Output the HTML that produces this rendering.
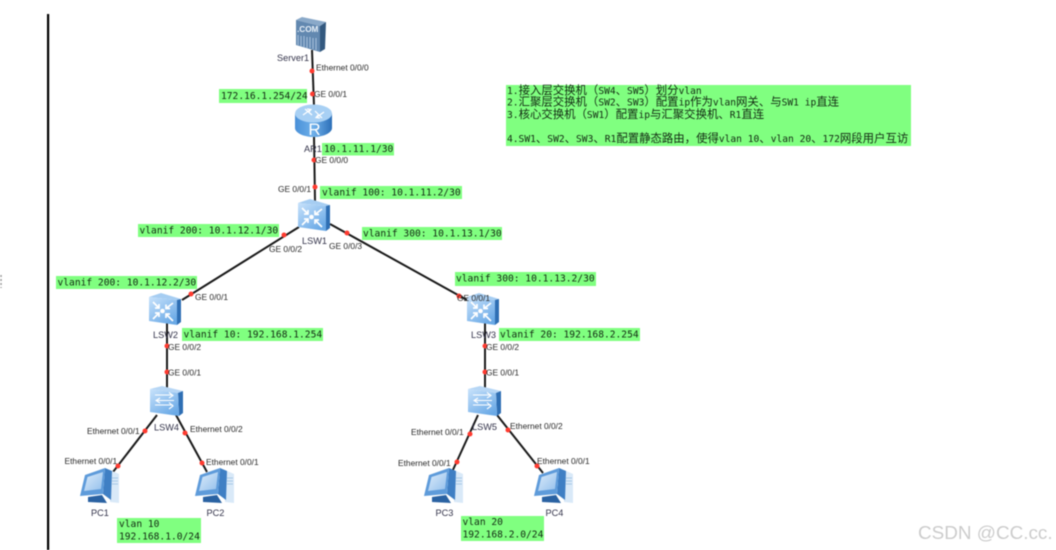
<!DOCTYPE html>
<html lang="zh">
<head>
<meta charset="utf-8">
<title>Network topology</title>
<style>
html,body{margin:0;padding:0;background:#fff;width:1056px;height:550px;overflow:hidden}
svg{display:block;filter:blur(.45px)}
.l{font-family:"Liberation Sans",sans-serif;font-size:8.4px;fill:#2a2a2a}
.n{font-family:"Liberation Sans",sans-serif;font-size:9.2px;fill:#33334a}
.m{font-family:"DejaVu Sans Mono","Liberation Mono",monospace;font-size:9.6px;fill:#122a12}
.c{font-family:"Noto Sans CJK SC","WenQuanYi Zen Hei",sans-serif;font-size:11.4px}
.g{fill:#80ff80}
.w{font-family:"Liberation Sans",sans-serif;font-size:18.9px;fill:#cccccc}
</style>
</head>
<body>
<svg width="1056" height="550" viewBox="0 0 1056 550" xmlns="http://www.w3.org/2000/svg">
<defs>
<linearGradient id="f" x1="0" y1="0" x2="0.7" y2="1"><stop offset="0" stop-color="#c8e2fb"/><stop offset="1" stop-color="#6aa9e6"/></linearGradient>
<linearGradient id="r" x1="0" y1="0" x2="1" y2="0"><stop offset="0" stop-color="#4a90d8"/><stop offset=".5" stop-color="#6fb0ea"/><stop offset="1" stop-color="#2c6fb8"/></linearGradient>
<linearGradient id="p" x1="0" y1="0" x2="1" y2="1"><stop offset="0" stop-color="#dcebfa"/><stop offset="1" stop-color="#94c0ec"/></linearGradient>
<g id="core">
<polygon points="0,4 12,0 32,6 28,7" fill="#a6cdf2"/>
<polygon points="28,7 32,6 32,29 28,32" fill="#2f6fb4"/>
<polygon points="0,4 28,7 28,32 0,28" fill="url(#f)"/>
<g stroke="#fff" stroke-width="1.700" fill="none">
<path d="M4,9 L10,15 M10,11 V15 H6"/><path d="M24,10 L17,15.500 M17,11.500 V15.500 H21"/>
<path d="M4,26 L10,20 M6,20 H10 V24"/><path d="M24,28 L17,21 M17,25 V21 H21"/>
</g>
<circle cx="13.500" cy="18" r="2.300" fill="#fff"/>
</g>
<g id="access">
<polygon points="0,3 12,0 33,5 28,7" fill="#b6d6f5"/>
<polygon points="28,7 33,5 33,27 29,30" fill="#2f6fb4"/>
<polygon points="0,3 28,7 29,30 0,26" fill="url(#f)"/>
<g stroke="#fff" stroke-width="1.100" fill="none">
<path d="M5,9 H23 M19,6.500 L23,9.500 L19,12"/>
<path d="M24,14.500 H6 M10,12 L6,14.500 L10,17"/>
<path d="M5,19 H23 M19,16.500 L23,20 L19,23"/>
</g>
</g>
<g id="pc">
<polygon points="30,1 39,5 39,34 30,33" fill="#d9e9f8"/>
<path d="M32,9 H38 M32,12 H38 M32,15 H38" stroke="#a8c8e6" stroke-width="1"/>
<polygon points="25,-1 32,2 31,31 23,25" fill="#3f7fc4"/>
<polygon points="8,28 22,26 27,34 8,33" fill="#2a62a2"/>
<polygon points="5,6 25,-1 23,25 0,27" fill="#5e9bda"/>
<polygon points="7.500,8 23,3 21,20 4,22" fill="url(#p)"/>
</g>
</defs>

<rect width="1056" height="550" fill="#fff"/>
<rect x="47" y="14" width="2.200" height="536" fill="#000"/>
<path d="M1,275v2M1,279v2M1,283v2M1,287v1" stroke="#999" stroke-width="1.500"/>

<g stroke="#1a1a1a" stroke-width="2" fill="none">
<path d="M312,50 L314,106"/>
<path d="M314,136 L315,201"/>
<path d="M299,227 L182,300"/>
<path d="M330,224 L467,300"/>
<path d="M167,320 V388"/>
<path d="M485,322 V388"/>
<path d="M157,415 L113,472"/>
<path d="M176,415 L207,472"/>
<path d="M478,415 L452,472"/>
<path d="M497,415 L543,473"/>
</g>

<!-- Server -->
<polygon points="296,20 302,17 326,22 320,26" fill="#8aa9c9"/>
<polygon points="320,26 326,22 325,49 320,52" fill="#33597f"/>
<polygon points="296,20 320,26 320,52 296,45" fill="#6288b0"/>
<path d="M298,35V45M301,36V46M304,36V47M307,37V48M310,37V48M313,38V49M316,38V50" stroke="#a9c2dc" stroke-width="1"/>
<text x="297" y="32" font-family="Liberation Sans,sans-serif" font-size="8.200" font-weight="bold" fill="#e8f0f8">.COM</text>

<!-- Router -->
<path d="M295,113 V128 C295,133 304,137 313.500,137 C323,137 332,133 332,128 V113 Z" fill="url(#r)"/>
<ellipse cx="313.500" cy="113.500" rx="18.500" ry="9" fill="#a8d0f4"/>
<path d="M303,115 L310,110 M307,109 L311,109.500 L309,112 M324,112 L317,117 M320,118 L316,117.500 L318,115 M305,109 L312,115 M322,118 L315,111" stroke="#fff" stroke-width="1.200" fill="none"/>
<text x="314.500" y="135" text-anchor="middle" font-family="Liberation Sans,sans-serif" font-size="17" fill="#fff">R</text>

<use href="#core" x="298" y="199"/>
<use href="#core" x="149" y="293"/>
<use href="#core" x="467" y="293"/>
<use href="#access" x="150" y="386"/>
<use href="#access" x="468" y="386"/>
<use href="#pc" x="80" y="469"/>
<use href="#pc" x="195" y="469"/>
<use href="#pc" x="424" y="469"/>
<use href="#pc" x="534" y="469"/>

<g fill="#ff3b30">
<circle cx="312" cy="71" r="2.500"/><circle cx="312.500" cy="94" r="2.500"/>
<circle cx="314" cy="160" r="2.500"/><circle cx="315" cy="187" r="2.500"/>
<circle cx="284" cy="235" r="2.500"/><circle cx="347" cy="233" r="2.500"/>
<circle cx="191" cy="294" r="2.500"/><circle cx="167" cy="346" r="2.500"/>
<circle cx="167" cy="372" r="2.500"/><circle cx="145" cy="431" r="2.500"/>
<circle cx="185" cy="433" r="2.500"/><circle cx="118" cy="466" r="2.500"/>
<circle cx="202" cy="463" r="2.500"/><circle cx="459" cy="296" r="2.500"/>
<circle cx="485" cy="346" r="2.500"/><circle cx="485" cy="372" r="2.500"/>
<circle cx="470" cy="434" r="2.500"/><circle cx="508" cy="430" r="2.500"/>
<circle cx="457" cy="462" r="2.500"/><circle cx="537" cy="466" r="2.500"/>
</g>

<!-- green boxes -->
<rect class="g" x="219" y="89" width="88" height="14"/>
<rect class="g" x="322" y="143" width="72" height="12.500"/>
<rect class="g" x="320" y="186" width="142" height="13"/>
<rect class="g" x="362" y="227" width="140" height="13"/>
<rect class="g" x="138" y="224" width="141" height="13"/>
<rect class="g" x="56" y="276" width="141" height="13"/>
<rect class="g" x="182" y="328" width="141" height="13"/>
<rect class="g" x="455" y="272" width="141" height="14"/>
<rect class="g" x="499" y="328" width="141" height="13"/>
<rect class="g" x="117" y="518" width="84" height="25"/>
<rect class="g" x="461" y="516" width="83" height="25"/>
<rect class="g" x="506" y="85" width="405" height="61"/>

<g class="m">
<text class="m" x="221" y="99">172.16.1.254/24</text>
<text class="m" x="324" y="152">10.1.11.1/30</text>
<text class="m" x="322" y="195.500">vlanif 100: 10.1.11.2/30</text>
<text class="m" x="363" y="236.500">vlanif 300: 10.1.13.1/30</text>
<text class="m" x="139.500" y="233.500">vlanif 200: 10.1.12.1/30</text>
<text class="m" x="57.500" y="285.500">vlanif 200: 10.1.12.2/30</text>
<text class="m" x="183.500" y="337.500">vlanif 10: 192.168.1.254</text>
<text class="m" x="456" y="281.500">vlanif 300: 10.1.13.2/30</text>
<text class="m" x="500" y="337.500">vlanif 20: 192.168.2.254</text>
<text class="m" x="119" y="527">vlan 10</text>
<text class="m" x="119" y="539.500">192.168.1.0/24</text>
<text class="m" x="462.500" y="525">vlan 20</text>
<text class="m" x="462.500" y="537.500">192.168.2.0/24</text>
<text class="m" x="507" y="94">1.<tspan class="c">接入层交换机（</tspan>SW4<tspan class="c">、</tspan>SW5<tspan class="c">）划分</tspan>vlan</text>
<text class="m" x="507" y="105.500">2.<tspan class="c">汇聚层交换机（</tspan>SW2<tspan class="c">、</tspan>SW3<tspan class="c">）配置</tspan>ip<tspan class="c">作为</tspan>vlan<tspan class="c">网关、与</tspan>SW1 ip<tspan class="c">直连</tspan></text>
<text class="m" x="507" y="118">3.<tspan class="c">核心交换机（</tspan>SW1<tspan class="c">）配置</tspan>ip<tspan class="c">与汇聚交换机、</tspan>R1<tspan class="c">直连</tspan></text>
<text class="m" x="507" y="142">4.SW1<tspan class="c">、</tspan>SW2<tspan class="c">、</tspan>SW3<tspan class="c">、</tspan>R1<tspan class="c">配置静态路由，使得</tspan>vlan 10<tspan class="c">、</tspan>vlan 20<tspan class="c">、</tspan>172<tspan class="c">网段用户互访</tspan></text>
</g>

<!-- port labels -->
<text class="l" x="316" y="70.500">Ethernet 0/0/0</text>
<text class="l" x="314" y="97">GE 0/0/1</text>
<text class="l" x="315" y="163">GE 0/0/0</text>
<text class="l" x="278" y="192">GE 0/0/1</text>
<text class="l" x="269" y="252">GE 0/0/2</text>
<text class="l" x="329" y="249">GE 0/0/3</text>
<text class="l" x="195" y="300">GE 0/0/1</text>
<text class="l" x="168" y="350">GE 0/0/2</text>
<text class="l" x="168" y="375.500">GE 0/0/1</text>
<text class="l" x="87" y="434">Ethernet 0/0/1</text>
<text class="l" x="190" y="432">Ethernet 0/0/2</text>
<text class="l" x="64.500" y="464">Ethernet 0/0/1</text>
<text class="l" x="206" y="465">Ethernet 0/0/1</text>
<text class="l" x="457" y="301">GE 0/0/1</text>
<text class="l" x="486" y="350">GE 0/0/2</text>
<text class="l" x="486" y="375.500">GE 0/0/1</text>
<text class="l" x="411" y="435">Ethernet 0/0/1</text>
<text class="l" x="510" y="429">Ethernet 0/0/2</text>
<text class="l" x="398" y="466">Ethernet 0/0/1</text>
<text class="l" x="537" y="464">Ethernet 0/0/1</text>

<!-- device names -->
<text class="n" x="277" y="61">Server1</text>
<text class="n" x="304" y="152">AR1</text>
<text class="n" x="302" y="244">LSW1</text>
<text class="n" x="153" y="338">LSW2</text>
<text class="n" x="471" y="338">LSW3</text>
<text class="n" x="154" y="430.500">LSW4</text>
<text class="n" x="472" y="430">LSW5</text>
<text class="n" x="91" y="516">PC1</text>
<text class="n" x="206.500" y="516">PC2</text>
<text class="n" x="435.500" y="516">PC3</text>
<text class="n" x="545.500" y="516">PC4</text>

<text class="w" x="918" y="539">CSDN @CC.cc.</text>
</svg>
</body>
</html>
